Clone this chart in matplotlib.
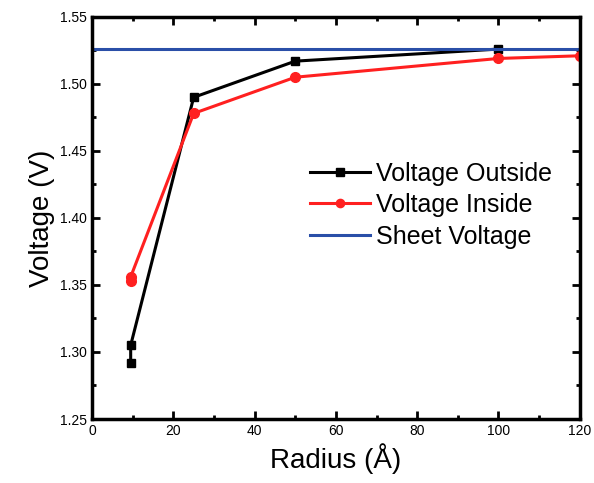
import numpy as np
import matplotlib.pyplot as plt
from matplotlib.ticker import MultipleLocator

plt.rcParams['font.family'] = ['Liberation Sans', 'DejaVu Sans']

# data
r_out = [9.5, 9.5, 25, 50, 100]
v_out = [1.292, 1.305, 1.490, 1.517, 1.526]
r_in = [9.5, 9.5, 25, 50, 100, 120]
v_in = [1.353, 1.356, 1.478, 1.505, 1.519, 1.521]
v_sheet = 1.526

fig = plt.figure(figsize=(5.94, 4.83), dpi=100)
ax = fig.add_axes([0.155, 0.1325, 0.821, 0.8325])

ax.plot(r_out, v_out, color='black', lw=2.2, marker='s', ms=6, label='Voltage Outside')
ax.plot(r_in, v_in, color='#ff2020', lw=2.2, marker='o', ms=7, label='Voltage Inside')
ax.axhline(v_sheet, color='#2a4fa8', lw=2.2, label='Sheet Voltage')

ax.set_xlim(0, 120)
ax.set_ylim(1.25, 1.55)
ax.xaxis.set_major_locator(MultipleLocator(20))
ax.xaxis.set_minor_locator(MultipleLocator(10))
ax.yaxis.set_major_locator(MultipleLocator(0.05))
ax.yaxis.set_minor_locator(MultipleLocator(0.025))
ax.yaxis.set_major_formatter(plt.FormatStrFormatter('%.2f'))
ax.tick_params(which='both', direction='in', top=True, right=True, width=2, labelsize=10)
ax.tick_params(which='major', length=6)
ax.tick_params(which='minor', length=3)
for s in ax.spines.values():
    s.set_linewidth(2.5)

ax.set_xlabel('Radius (Å)', fontsize=20)
ax.set_ylabel('Voltage (V)', fontsize=20)

ax.legend(loc='upper left', bbox_to_anchor=(0.447, 0.64), frameon=False, fontsize=18,
          handlelength=2.4, handletextpad=0.25, labelspacing=0.3, borderaxespad=0,
          borderpad=0, markerscale=0.85)

fig.savefig('out.png', dpi=100)
